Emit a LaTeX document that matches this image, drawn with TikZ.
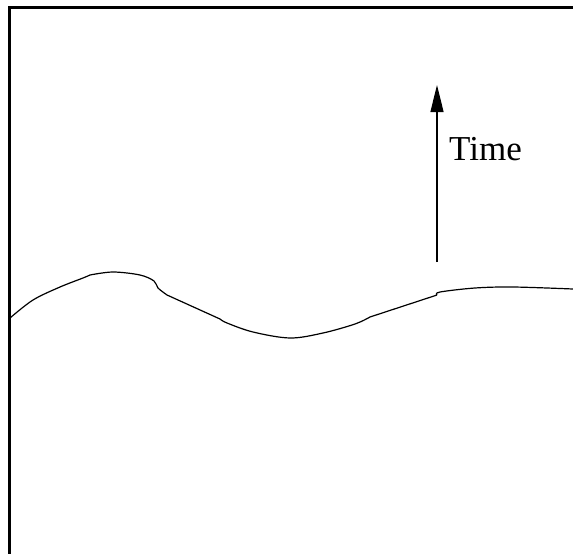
\documentclass[tikz,border=0pt]{standalone}
\usepackage{fontspec}
\setmainfont{Liberation Serif}
\usepackage{tikz}
\usetikzlibrary{arrows.meta,positioning}
\tikzset{
  keret/.style={line width=3pt},
  front/.style={line width=1.2pt,line join=round},
  nyil/.style={line width=1.2pt,-{Triangle[length=27pt,width=13pt]}},
}

\begin{document}
\begin{tikzpicture}[x=1pt,y=-1pt,font=\fontsize{35}{42}\selectfont]
  \useasboundingbox (0,0) rectangle (573,554);
  \draw[keret] (9.5,554) -- (9.5,7.5) -- (573,7.5);
  \draw[front] plot[smooth,tension=0.55] coordinates
    {(10,318) (33,300) (60,287) (83,278) (90,275)}
    plot[smooth,tension=0.55] coordinates
    {(90,275) (113,272) (140,275) (154,281) (158,288) (167,295)}
    -- (220,319)
    plot[smooth,tension=0.55] coordinates
    {(220,319) (227,323) (253,332) (290,338) (323,333) (355,324) (370,317)}
    -- (437,295)
    plot[smooth,tension=0.55] coordinates
    {(437,295) (440,292) (475,288) (513,287) (573,289)};
  \coordinate (tbase) at (437,262);
  \coordinate (ttip) at (437,85);
  \draw[nyil] (tbase) -- (ttip);
  \node[anchor=base west,inner sep=0pt] (time) at (449,160) {Time};
\end{tikzpicture}
\end{document}
